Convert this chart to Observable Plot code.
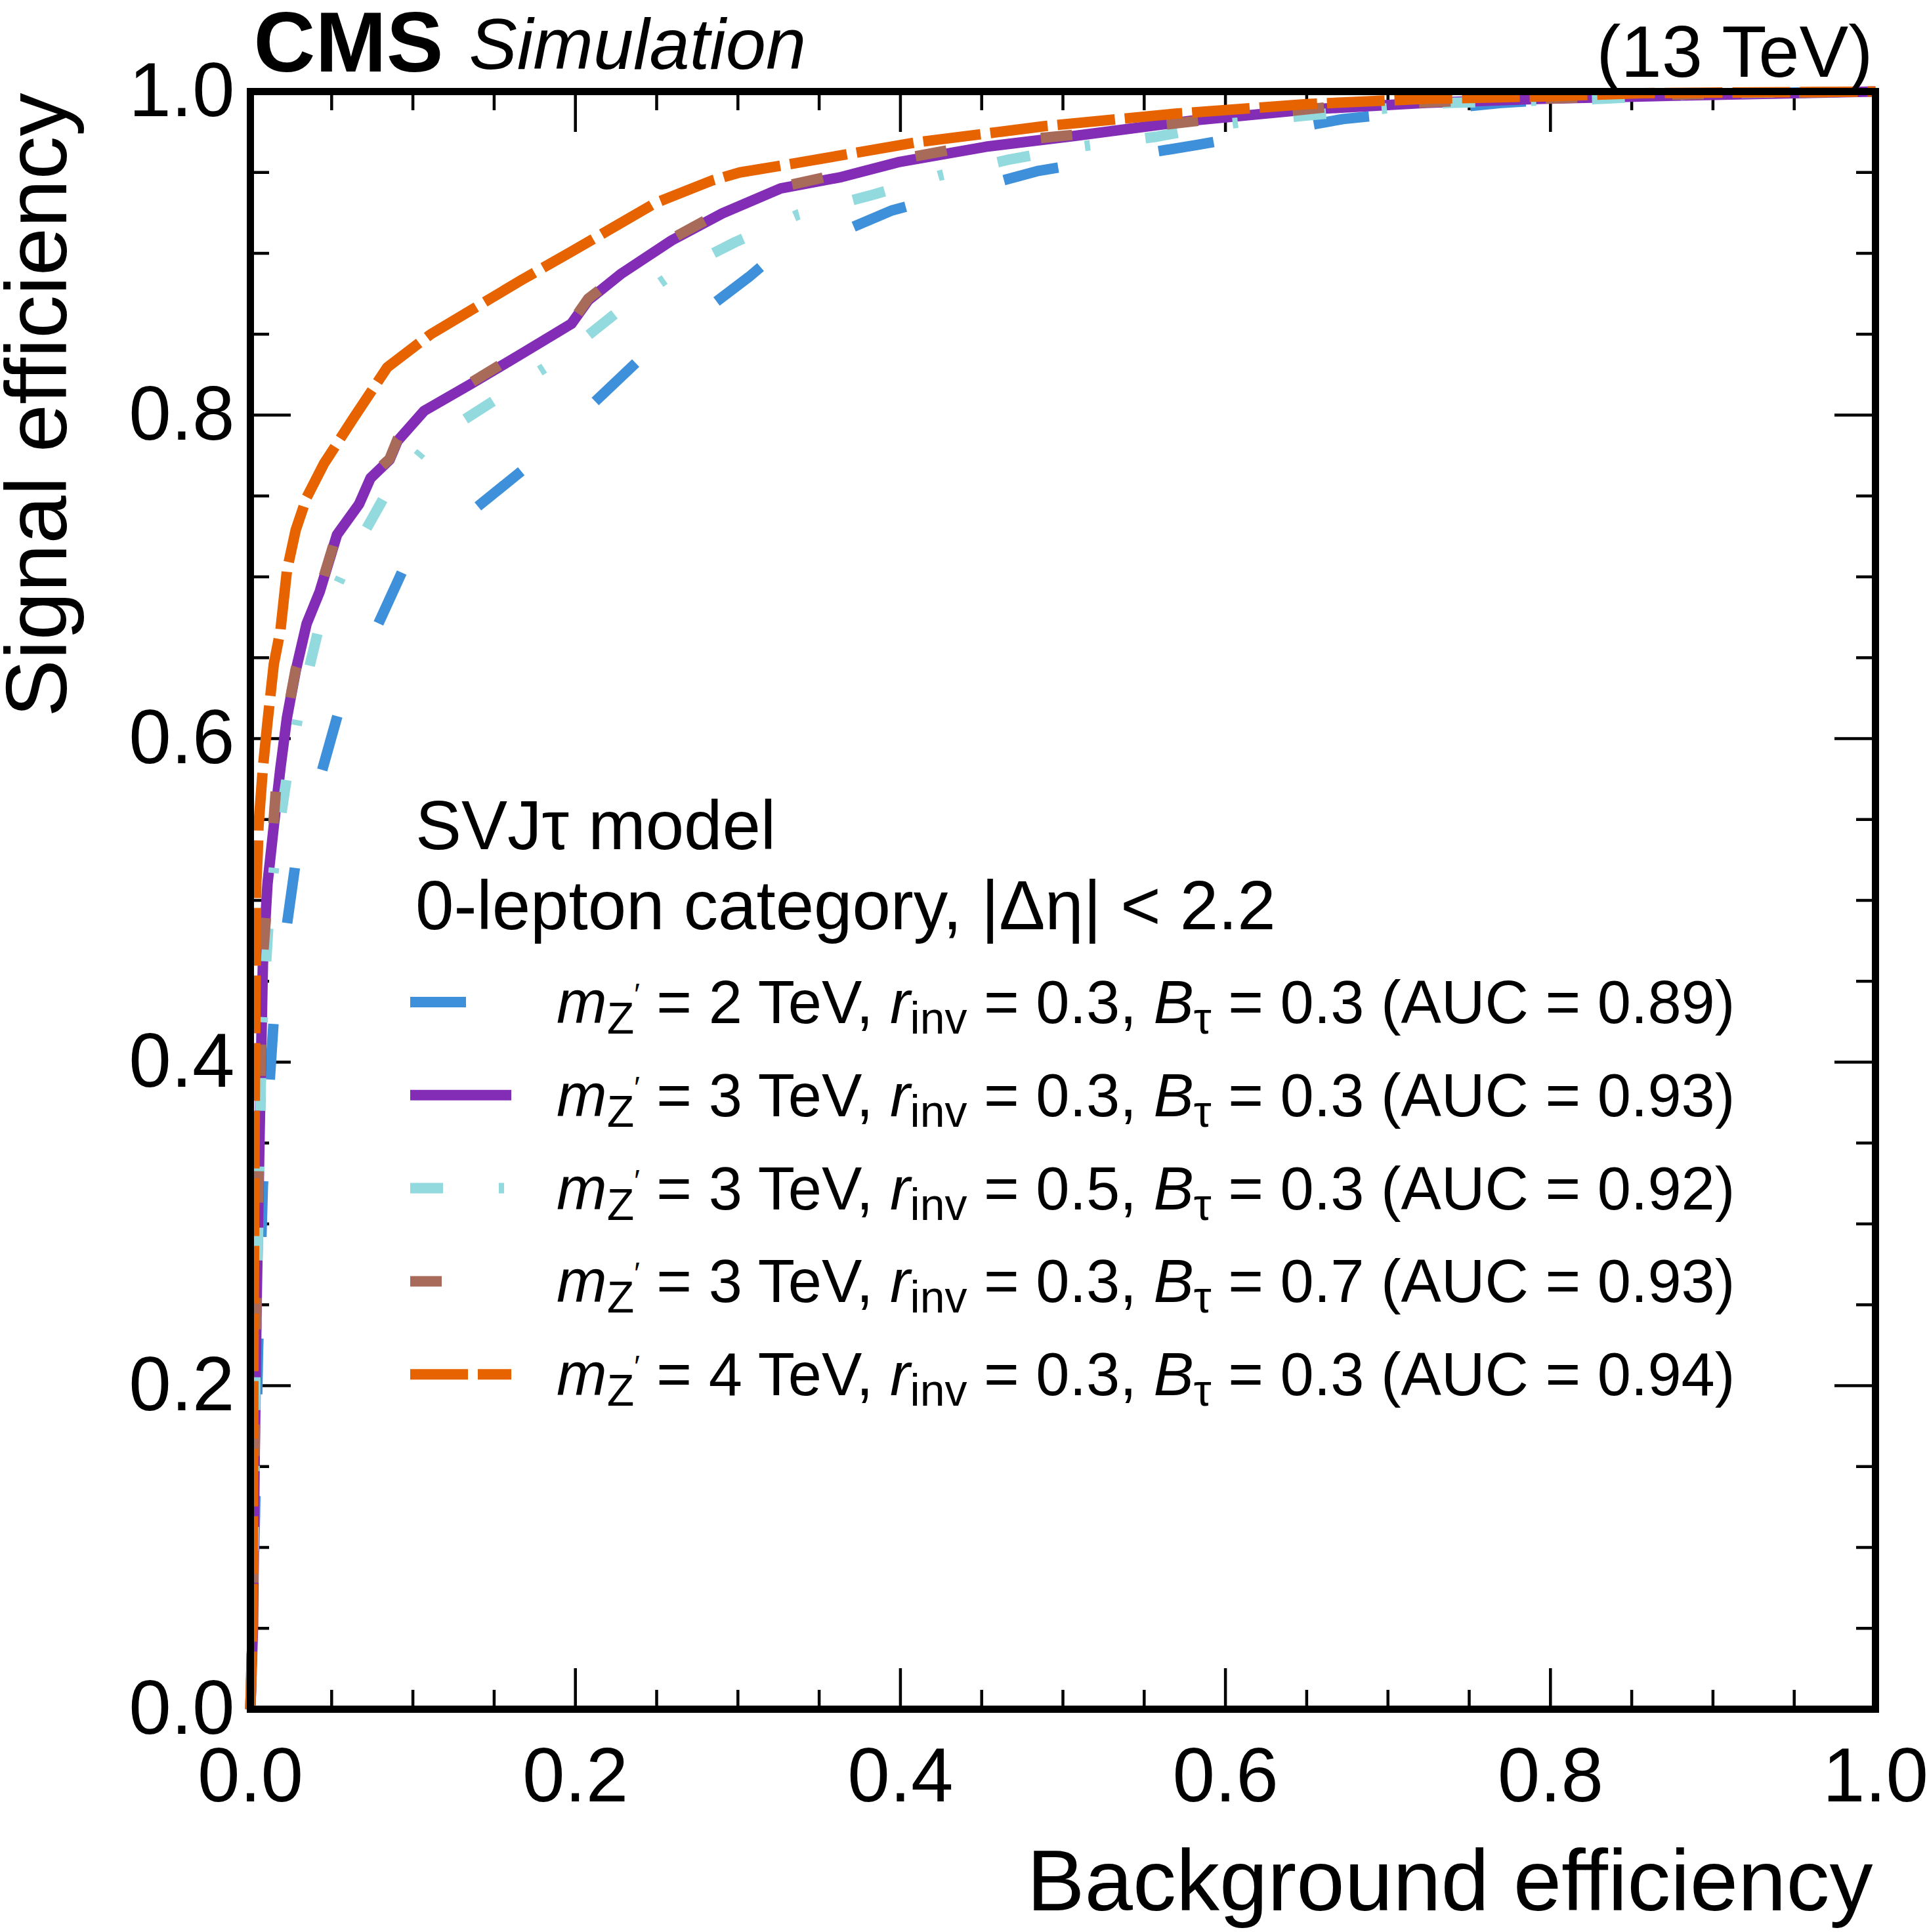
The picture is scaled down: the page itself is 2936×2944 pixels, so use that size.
<!DOCTYPE html>
<html><head><meta charset="utf-8">
<script src="https://cdn.jsdelivr.net/npm/d3@7"></script>
<script src="https://cdn.jsdelivr.net/npm/@observablehq/plot@0.6"></script>
<style>html,body{margin:0;padding:0;background:#fff;} svg{display:block}</style>
</head><body><div id="chart"></div>
<script>
// ---------- data ----------
const bgEff_m2_r03_b03 = [0, 0.0028, 0.0047, 0.0077, 0.0144, 0.0275, 0.0548, 0.0952, 0.1676, 0.2387, 0.3068, 0.3156, 0.395, 0.485, 0.5824, 0.6724, 0.770, 0.85, 1.0];
const sigEff_m2_r03_b03 = [0, 0.119, 0.222, 0.324, 0.427, 0.521, 0.6185, 0.7072, 0.766, 0.8337, 0.8854, 0.8929, 0.9266, 0.951, 0.967, 0.983, 0.993, 0.998, 1.0];

const bgEff_m3_r03_b03 = [0, 0.0016, 0.0026, 0.0039, 0.0057, 0.0077, 0.0105, 0.0144, 0.0185, 0.0225, 0.0279, 0.0346, 0.0427, 0.0533, 0.0669, 0.0739, 0.0857, 0.0905, 0.1069, 0.1357, 0.1667, 0.1975, 0.2079, 0.2285, 0.2593, 0.2904, 0.3263, 0.3625, 0.3986, 0.4527, 0.5067, 0.579, 0.651, 0.723, 0.795, 0.856, 1.0];
const sigEff_m3_r03_b03 = [0, 0.051, 0.153, 0.256, 0.358, 0.461, 0.510, 0.546, 0.582, 0.613, 0.642, 0.671, 0.691, 0.726, 0.745, 0.761, 0.7724, 0.784, 0.8026, 0.8192, 0.8378, 0.8564, 0.871, 0.8876, 0.908, 0.9247, 0.9401, 0.9469, 0.9563, 0.9659, 0.9725, 0.982, 0.9889, 0.993, 0.9955, 0.997, 1.0];

const bgEff_m3_r05_b03 = [0, 0.0023, 0.0032, 0.0053, 0.0069, 0.0117, 0.0158, 0.0225, 0.0312, 0.0427, 0.0609, 0.0831, 0.111, 0.150, 0.190, 0.2244, 0.261, 0.2985, 0.3372, 0.3823, 0.4237, 0.467, 0.5103, 0.557, 0.6006, 0.6474, 0.7375, 0.831, 0.9, 1.0];
const sigEff_m3_r05_b03 = [0, 0.12, 0.222, 0.324, 0.416, 0.495, 0.5315, 0.577, 0.623, 0.671, 0.711, 0.7507, 0.784, 0.809, 0.835, 0.8626, 0.888, 0.907, 0.924, 0.936, 0.948, 0.958, 0.966, 0.972, 0.980, 0.985, 0.993, 0.9955, 0.999, 1.0];

const bgEff_m3_r03_b07 = [0, 0.0015, 0.0025, 0.0038, 0.0055, 0.0075, 0.0104, 0.0142, 0.0164, 0.0225, 0.0279, 0.0322, 0.0427, 0.0533, 0.0669, 0.0739, 0.0857, 0.0905, 0.1069, 0.1357, 0.1667, 0.1975, 0.2079, 0.2285, 0.2593, 0.2904, 0.3263, 0.3625, 0.3986, 0.4527, 0.514, 0.593, 0.669, 0.74, 0.81, 0.87, 1.0];
const sigEff_m3_r03_b07 = [0, 0.05, 0.152, 0.255, 0.357, 0.462, 0.501, 0.548, 0.578, 0.614, 0.643, 0.657, 0.692, 0.727, 0.746, 0.762, 0.773, 0.785, 0.803, 0.820, 0.839, 0.857, 0.872, 0.888, 0.909, 0.926, 0.941, 0.949, 0.958, 0.968, 0.974, 0.983, 0.991, 0.994, 0.996, 0.998, 1.0];

const bgEff_m4_r03_b03 = [0, 0.0013, 0.0019, 0.0028, 0.0036, 0.0045, 0.005, 0.0077, 0.0104, 0.0144, 0.0185, 0.0225, 0.0279, 0.0346, 0.0453, 0.0637, 0.0843, 0.111, 0.1667, 0.1975, 0.249, 0.284, 0.3012, 0.3372, 0.4094, 0.4887, 0.568, 0.651, 0.723, 0.795, 0.856, 1.0];
const sigEff_m4_r03_b03 = [0, 0.051, 0.222, 0.392, 0.51, 0.529, 0.546, 0.582, 0.609, 0.646, 0.667, 0.704, 0.729, 0.749, 0.770, 0.7985, 0.8296, 0.850, 0.8834, 0.901, 0.931, 0.945, 0.950, 0.956, 0.9685, 0.9786, 0.9862, 0.9923, 0.9955, 0.997, 0.999, 1.0];

// legend text pieces
const massTeV = ["2", "3", "3", "3", "4"];
const rinvVals = ["0.3", "0.3", "0.5", "0.3", "0.3"];
const btauVals = ["0.3", "0.3", "0.3", "0.7", "0.3"];
const aucVals = ["0.89", "0.93", "0.92", "0.93", "0.94"];
const legendHeader = ["SVJτ model", "0-lepton category, |Δη| < 2.2"];

// ticks
const majorTicks = [0, 0.2, 0.4, 0.6, 0.8, 1.0];
const minorTicks = [0.05, 0.1, 0.15, 0.25, 0.3, 0.35, 0.45, 0.5, 0.55, 0.65, 0.7, 0.75, 0.85, 0.9, 0.95];
const tickLabels = ["0.0", "0.2", "0.4", "0.6", "0.8", "1.0"];

const xTitle = "Background efficiency";
const yTitle = "Signal efficiency";
const cmsLabel = "CMS";
const cmsExtra = "Simulation";
const lumiLabel = "(13 TeV)";

// ---------- styles ----------
const colors = ["#3f90da", "#832db6", "#92dadd", "#a96b59", "#e76300"];
const dashes = ["85,155", null, "50,85,8,85", "48,145", "88,15"];
const FONT = "'Liberation Sans', Arial, Helvetica, sans-serif";

const seriesX = [bgEff_m2_r03_b03, bgEff_m3_r03_b03, bgEff_m3_r05_b03, bgEff_m3_r03_b07, bgEff_m4_r03_b03];
const seriesY = [sigEff_m2_r03_b03, sigEff_m3_r03_b03, sigEff_m3_r05_b03, sigEff_m3_r03_b07, sigEff_m4_r03_b03];

const W = 2936, H = 2944;
const mL = 381, mR = 79, mT = 139, mB = 340;
const innerW = W - mL - mR, innerH = H - mT - mB;
const majLen = 62, minLen = 29, tickW = 4.5;

const lineMarks = seriesX.map((xs, i) => {
  const rows = xs.map((x, j) => ({x, y: seriesY[i][j]}));
  const opts = {x: "x", y: "y", stroke: colors[i], strokeWidth: 16, strokeLinecap: "butt", strokeLinejoin: "round", curve: "linear"};
  if (dashes[i]) opts.strokeDasharray = dashes[i];
  return Plot.line(rows, opts);
});

function tickMarks(vals, len) {
  const o = {stroke: "black", strokeWidth: tickW};
  return [
    Plot.ruleX(vals, {x: d => d, insetTop: innerH - len, ...o}),
    Plot.ruleX(vals, {x: d => d, insetBottom: innerH - len, ...o}),
    Plot.ruleY(vals, {y: d => d, insetRight: innerW - len, ...o}),
    Plot.ruleY(vals, {y: d => d, insetLeft: innerW - len, ...o})
  ];
}

const chart = Plot.plot({
  width: W, height: H,
  marginLeft: mL, marginRight: mR, marginTop: mT, marginBottom: mB,
  x: {domain: [0, 1], axis: null},
  y: {domain: [0, 1], axis: null},
  style: {fontFamily: FONT, background: "white", color: "black"},
  marks: [
    ...tickMarks(minorTicks, minLen),
    ...tickMarks(majorTicks, majLen),
    ...lineMarks,
    Plot.frame({stroke: "black", strokeWidth: 11}),
    Plot.text(majorTicks, {x: d => d, text: (d, i) => tickLabels[i], frameAnchor: "bottom", lineAnchor: "bottom", dy: 140, fontSize: 116, fontFamily: FONT}),
    Plot.text(majorTicks, {y: d => d, text: (d, i) => tickLabels[i], frameAnchor: "left", textAnchor: "end", lineAnchor: "middle", dx: -24, fontSize: 116, fontFamily: FONT}),
    Plot.text([xTitle], {text: d => d, frameAnchor: "bottom-right", textAnchor: "end", lineAnchor: "bottom", dx: -4, dy: 306, fontSize: 132, fontFamily: FONT}),
    Plot.text([yTitle], {text: d => d, frameAnchor: "top-left", textAnchor: "end", lineAnchor: "bottom", rotate: -90, dx: -281, dy: 2, fontSize: 132, fontFamily: FONT}),
    Plot.text([cmsLabel], {text: d => d, frameAnchor: "top-left", textAnchor: "start", lineAnchor: "bottom", dx: 5, dy: -31, fontSize: 130, fontWeight: "bold", fontFamily: FONT}),
    Plot.text([cmsExtra], {text: d => d, frameAnchor: "top-left", textAnchor: "start", lineAnchor: "bottom", dx: 333, dy: -35, fontSize: 110, fontStyle: "italic", fontFamily: FONT}),
    Plot.text([lumiLabel], {text: d => d, frameAnchor: "top-right", textAnchor: "end", lineAnchor: "bottom", dx: -4, dy: -23, fontSize: 112, fontFamily: FONT})
  ]
});
document.getElementById("chart").appendChild(chart);

// ---------- legend (inside the frame) ----------
const svg = d3.select(chart);
const lg = svg.append("g").attr("font-family", FONT).attr("fill", "black").attr("text-anchor", "start");
const legX = mL + 252;            // header left
const headBase = [mT + 1155, mT + 1277];
legendHeader.forEach((t, k) => {
  lg.append("text").attr("x", legX).attr("y", headBase[k]).attr("font-size", 105).attr("text-anchor", "start").text(t);
});
const entryX = mL + 467, swX1 = mL + 244, swX2 = mL + 398;
const entryBase0 = mT + 1420, entryStep = 141.8;
massTeV.forEach((m, i) => {
  const base = entryBase0 + i * entryStep;
  const ln = lg.append("line").attr("x1", swX1).attr("x2", swX2).attr("y1", base - 32).attr("y2", base - 32)
    .attr("stroke", colors[i]).attr("stroke-width", 16).attr("stroke-linecap", "butt");
  if (dashes[i]) ln.attr("stroke-dasharray", dashes[i]);
  const t = lg.append("text").attr("x", entryX).attr("y", base).attr("font-size", 92)
    .attr("text-anchor", "start").style("white-space", "pre");
  t.append("tspan").attr("font-style", "italic").text("m");
  t.append("tspan").attr("font-size", 68).attr("dy", 16).text("Z");
  t.append("tspan").attr("font-size", 46).attr("dy", -44).text("′");
  t.append("tspan").attr("dy", 28).text(` = ${m} TeV, `);
  t.append("tspan").attr("font-style", "italic").text("r");
  t.append("tspan").attr("font-size", 68).attr("dy", 16).text("inv");
  t.append("tspan").attr("dy", -16).text(` = ${rinvVals[i]}, `);
  t.append("tspan").attr("font-style", "italic").text("B");
  t.append("tspan").attr("font-size", 68).attr("dy", 16).text("τ");
  t.append("tspan").attr("dy", -16).text(` = ${btauVals[i]} (AUC = ${aucVals[i]})`);
});
</script>
</body></html>
